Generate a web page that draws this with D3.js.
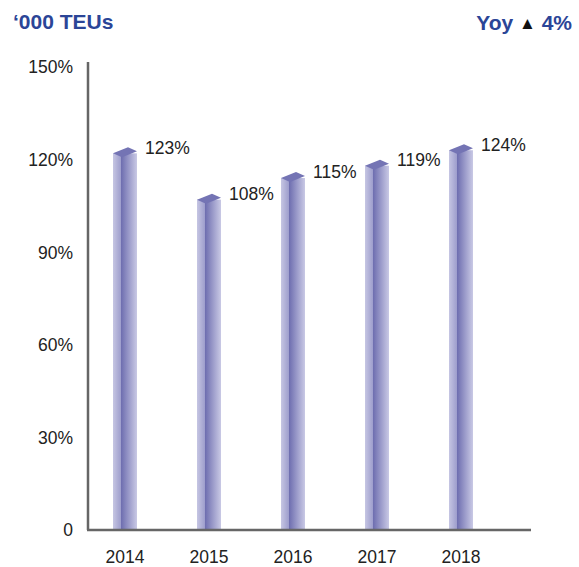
<!DOCTYPE html>
<html><head><meta charset="utf-8">
<script src="https://cdn.jsdelivr.net/npm/d3@7"></script>
<style>body{margin:0;background:#fff}svg{display:block}</style>
</head><body>
<script>
const years = ["2014","2015","2016","2017","2018"];
const values = [123,108,115,119,124];
const yTicks = [0,30,60,90,120,150];
const title = "\u2018000 TEUs";
const yoyLabel = "Yoy";
const yoyValue = "4%";

const W=579,H=567;
const svg=d3.select("body").append("svg").attr("width",W).attr("height",H);
const font="Liberation Sans, Arial, sans-serif";
const fs=17.5;
const y=d3.scaleLinear().domain([0,150]).range([530,67]);
const x=d3.scalePoint().domain(years).range([125,461]);

const defs=svg.append("defs");
const gf=defs.append("linearGradient").attr("id","front");
gf.append("stop").attr("offset","0").attr("stop-color","#c6c6e3");
gf.append("stop").attr("offset","1").attr("stop-color","#9d9dcc");
const gs=defs.append("linearGradient").attr("id","side");
gs.append("stop").attr("offset","0").attr("stop-color","#6d6daf");
gs.append("stop").attr("offset","1").attr("stop-color","#c9c9e5");

// title
svg.append("text").attr("x",13).attr("y",29).attr("font-family",font).attr("font-weight","bold")
  .attr("font-size",21).attr("fill","#2b4597").text(title);
const yt=svg.append("text").attr("x",572).attr("y",30).attr("text-anchor","end").attr("font-family",font)
  .attr("font-weight","bold").attr("font-size",21).attr("fill","#2b4597");
yt.append("tspan").text(yoyLabel+"  ");
yt.append("tspan").attr("fill","#111").attr("font-size",17).attr("dy",-1).text("\u25B2");
yt.append("tspan").attr("dy",1).text("  "+yoyValue);

// y tick labels
svg.append("g").selectAll("text").data(yTicks).join("text")
  .attr("x",73).attr("y",d=>y(d)).attr("dy","0.36em").attr("text-anchor","end")
  .attr("font-family",font).attr("font-size",fs).attr("fill","#222")
  .text(d=>d===0?"0":d+"%");

// bars
const bw=24, fw=8;
const g=svg.append("g");
years.forEach((yr,i)=>{
  const cx=x(yr), left=cx-12, top=y(values[i]);
  g.append("rect").attr("x",left).attr("y",top+3).attr("width",fw).attr("height",530-top-3).attr("fill","url(#front)");
  g.append("rect").attr("x",left+fw).attr("y",top+3).attr("width",bw-fw).attr("height",530-top-3).attr("fill","url(#side)");
  g.append("path").attr("d",`M${left},${top+3}L${left+15},${top-3}L${left+bw},${top+1}L${left+fw+1},${top+7}Z`).attr("fill","#7474b4");
  g.append("text").attr("x",cx+20).attr("y",top-3).attr("dy","0.36em")
    .attr("font-family",font).attr("font-size",fs).attr("fill","#222").text(values[i]+"%");
});

// axes
svg.append("line").attr("x1",88).attr("x2",88).attr("y1",62).attr("y2",530).attr("stroke","#666").attr("stroke-width",2.5);
svg.append("line").attr("x1",87).attr("x2",531).attr("y1",530).attr("y2",530).attr("stroke","#666").attr("stroke-width",2.5);

// x labels
svg.append("g").selectAll("text").data(years).join("text")
  .attr("x",d=>x(d)).attr("y",557).attr("dy","0.36em").attr("text-anchor","middle")
  .attr("font-family",font).attr("font-size",fs).attr("fill","#222").text(d=>d);
</script>
</body></html>
